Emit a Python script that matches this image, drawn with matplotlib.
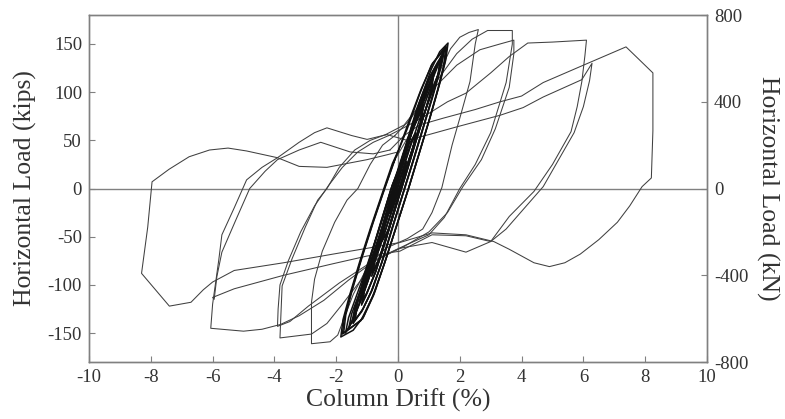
import numpy as np
from matplotlib import pyplot as plt

# drift (%) and horizontal load (kips) read from the test record, one list per cycle
cyc_025 = [(0.00, 2), (0.13, 15), (0.27, 28), (0.22, 19), (0.08, 4), (-0.08, -10), (-0.26, -26), (-0.20, -17), (-0.03, -1)]
cyc_050a = [(-0.03, -1), (0.18, 22), (0.38, 44), (0.55, 56), (0.50, 44), (0.32, 24), (0.12, 2), (-0.12, -24),
            (-0.32, -44), (-0.52, -55), (-0.47, -43), (-0.28, -22), (-0.08, 0)]
cyc_050b = [(-0.08, 0), (0.16, 24), (0.36, 46), (0.57, 58), (0.52, 47), (0.34, 27), (0.14, 5), (-0.10, -21),
            (-0.30, -42), (-0.50, -53), (-0.45, -41), (-0.26, -20), (-0.06, 3)]
cyc_075a = [(-0.06, 3), (0.22, 34), (0.50, 64), (0.80, 84), (0.74, 70), (0.52, 46), (0.26, 18), (-0.05, -14),
            (-0.35, -46), (-0.60, -72), (-0.82, -88), (-0.76, -74), (-0.54, -50), (-0.26, -20), (-0.04, 6)]
cyc_075b = [(-0.04, 6), (0.24, 37), (0.52, 66), (0.83, 87), (0.77, 72), (0.55, 48), (0.28, 20), (-0.02, -12),
            (-0.32, -44), (-0.58, -70), (-0.85, -91), (-0.79, -76), (-0.57, -52), (-0.29, -22), (-0.06, 4)]
cyc_075c = [(-0.06, 4), (0.20, 32), (0.48, 62), (0.78, 82), (0.72, 68), (0.50, 44), (0.24, 16), (-0.06, -16),
            (-0.36, -48), (-0.62, -74), (-0.80, -86), (-0.74, -72), (-0.52, -48), (-0.24, -18), (-0.02, 8)]
cyc_100a = [(-0.02, 8), (0.30, 44), (0.62, 78), (0.92, 102), (1.12, 114), (1.06, 100), (0.84, 76), (0.55, 46),
            (0.25, 14), (-0.08, -20), (-0.40, -54), (-0.72, -86), (-1.00, -108), (-1.15, -118), (-1.09, -104),
            (-0.88, -80), (-0.58, -48), (-0.28, -16), (-0.04, 10)]
cyc_100b = [(-0.04, 10), (0.28, 42), (0.60, 76), (0.94, 104), (1.15, 117), (1.09, 103), (0.87, 79), (0.58, 49),
            (0.28, 17), (-0.05, -17), (-0.37, -51), (-0.70, -84), (-1.02, -110), (-1.18, -121), (-1.12, -107),
            (-0.91, -83), (-0.61, -51), (-0.31, -19), (-0.06, 8)]
cyc_100c = [(-0.06, 8), (0.32, 47), (0.64, 80), (0.96, 105), (1.10, 112), (1.04, 98), (0.82, 74), (0.52, 43),
            (0.22, 11), (-0.10, -22), (-0.42, -56), (-0.74, -88), (-0.98, -106), (-1.13, -116), (-1.07, -102),
            (-0.86, -78), (-0.56, -46), (-0.26, -14), (-0.02, 12)]
cyc_125a = [(-0.02, 12), (0.30, 46), (0.65, 82), (1.00, 112), (1.25, 128), (1.38, 134), (1.31, 118), (1.10, 94),
            (0.80, 62), (0.48, 28), (0.15, -6), (-0.18, -40), (-0.52, -76), (-0.85, -106), (-1.15, -126),
            (-1.40, -137), (-1.34, -122), (-1.14, -98), (-0.84, -66), (-0.52, -32), (-0.20, 2), (0.00, 18)]
cyc_125b = [(0.00, 18), (0.33, 52), (0.68, 88), (1.03, 116), (1.28, 131), (1.42, 138), (1.35, 121), (1.14, 97),
            (0.84, 65), (0.52, 31), (0.19, -3), (-0.14, -37), (-0.48, -73), (-0.82, -104), (-1.12, -124),
            (-1.45, -140), (-1.38, -124), (-1.17, -100), (-0.87, -68), (-0.55, -34), (-0.24, -2), (-0.04, 16)]
cyc_125c = [(-0.04, 16), (0.28, 48), (0.62, 84), (0.98, 113), (1.22, 127), (1.36, 133), (1.29, 117), (1.08, 92),
            (0.78, 60), (0.46, 26), (0.13, -8), (-0.20, -42), (-0.54, -78), (-0.88, -108), (-1.18, -128),
            (-1.38, -136), (-1.32, -120), (-1.12, -96), (-0.82, -64), (-0.50, -30), (-0.18, 4), (0.02, 20)]
cyc_130a = [(0.02, 20), (0.50, 62), (1.00, 104), (1.40, 136), (1.30, 118), (0.85, 78), (0.35, 30), (-0.15, -18),
            (-0.65, -66), (-1.15, -112), (-1.50, -140), (-1.40, -124), (-0.95, -84), (-0.45, -36), (0.02, 20)]
cyc_130b = [(0.02, 20), (0.45, 60), (0.95, 102), (1.35, 134), (1.52, 146), (1.42, 130), (1.00, 92), (0.50, 44),
            (0.00, -4), (-0.50, -52), (-1.00, -98), (-1.45, -136), (-1.70, -150), (-1.60, -134), (-1.15, -94),
            (-0.65, -46), (-0.15, 2), (0.02, 20)]
cyc_130c = [(0.02, 20), (0.40, 56), (0.90, 100), (1.20, 124), (1.10, 110), (0.70, 72), (0.20, 24), (-0.30, -26),
            (-0.80, -76), (-1.25, -118), (-1.15, -104), (-0.70, -60), (-0.20, -12), (0.02, 20)]
cyc_130d = [(0.02, 20), (0.55, 70), (1.05, 112), (1.48, 142), (1.38, 126), (0.92, 84), (0.42, 36), (-0.08, -12),
            (-0.58, -60), (-1.08, -106), (-1.60, -146), (-1.50, -130), (-1.02, -88), (-0.52, -40), (0.02, 20)]
cyc_150a = [(0.02, 20), (0.35, 54), (0.72, 92), (1.08, 124), (1.35, 142), (1.62, 151), (1.55, 134), (1.36, 110),
            (1.06, 76), (0.72, 40), (0.38, 4), (0.02, -32), (-0.36, -70), (-0.74, -106), (-1.10, -132),
            (-1.45, -147), (-1.85, -154), (-1.78, -136), (-1.56, -110), (-1.24, -76), (-0.88, -40), (-0.52, -6),
            (-0.18, 26), (0.02, 40)]
cyc_150b = [(0.02, 40), (0.38, 72), (0.76, 104), (1.12, 130), (1.58, 147), (1.51, 130), (1.32, 106), (1.02, 72),
            (0.68, 36), (0.34, 0), (-0.02, -36), (-0.40, -74), (-0.78, -110), (-1.14, -135), (-1.80, -151),
            (-1.73, -133), (-1.51, -107), (-1.19, -73), (-0.83, -37), (-0.47, -3), (-0.13, 28)]
cyc_150c = [(-0.13, 28), (0.30, 62), (0.70, 98), (1.08, 128), (1.55, 148), (1.48, 128), (1.28, 102), (0.98, 68),
            (0.64, 32), (0.30, -4), (-0.06, -40), (-0.44, -78), (-0.82, -112), (-1.20, -137), (-1.76, -150),
            (-1.69, -131), (-1.47, -104), (-1.15, -70), (-0.79, -34), (-0.43, 0), (-0.10, 30)]
cyc_26 = [(-0.10, 30), (0.30, 52), (0.80, 85), (1.30, 118), (1.70, 145), (2.00, 157), (2.30, 162), (2.60, 165),
          (2.50, 150), (2.33, 111), (2.00, 73), (1.75, 45), (1.42, 1), (1.10, -25), (0.80, -42), (0.30, -52),
          (-0.40, -62), (-1.00, -82), (-1.45, -110), (-1.75, -135), (-1.95, -152), (-2.20, -159), (-2.80, -161),
          (-2.80, -140), (-2.80, -118), (-2.70, -94), (-2.45, -65), (-2.05, -35), (-1.65, -12), (-1.30, 0),
          (-0.90, 25), (-0.50, 45), (-0.10, 55)]
cyc_37a = [(-0.10, 55), (0.40, 72), (0.90, 95), (1.40, 118), (1.90, 140), (2.40, 155), (2.90, 164), (3.70, 164),
           (3.70, 150), (3.50, 110), (3.00, 58), (2.50, 25), (2.00, 0), (1.50, -30), (1.00, -48), (0.30, -58),
           (-0.50, -70), (-1.20, -95), (-1.80, -120), (-2.30, -140), (-2.80, -151), (-3.82, -155),
           (-3.80, -139), (-3.75, -101), (-3.43, -73), (-3.00, -40), (-2.60, -12), (-2.30, 0), (-1.90, 22),
           (-1.40, 40), (-0.90, 50), (-0.40, 56)]
cyc_37b = [(-0.40, 56), (0.20, 66), (1.03, 100), (1.90, 128), (2.65, 144), (3.30, 150), (3.75, 154),
           (3.75, 140), (3.60, 105), (3.15, 62), (2.70, 30), (2.10, 2), (1.60, -25), (1.00, -45), (0.20, -60),
           (-0.80, -75), (-1.90, -98), (-2.90, -122), (-3.50, -138), (-3.90, -143),
           (-3.88, -125), (-3.82, -100), (-3.55, -75), (-3.15, -45), (-2.70, -18), (-2.25, 3), (-1.80, 22),
           (-1.30, 38), (-0.80, 48), (-0.30, 55)]
cyc_60a = [(-0.30, 55), (0.30, 65), (0.90, 76), (1.60, 90), (2.20, 99), (3.00, 120), (3.60, 137), (4.20, 151),
           (5.00, 152), (6.10, 154), (6.05, 138), (5.95, 111), (5.80, 85), (5.60, 59), (5.00, 25), (4.40, -3),
           (3.60, -29), (3.00, -55), (2.20, -66), (1.10, -56), (0.06, -62), (-0.80, -76), (-1.60, -95),
           (-2.40, -116), (-3.20, -132), (-3.80, -141), (-4.40, -146), (-5.00, -148), (-6.06, -145),
           (-6.00, -120), (-5.90, -97), (-5.80, -74), (-5.70, -48), (-5.30, -20), (-4.90, 9), (-4.40, 22),
           (-3.90, 32), (-3.20, 48), (-2.70, 58), (-2.30, 63), (-1.50, 55), (-1.00, 51), (-0.36, 56)]
cyc_60b = [(-0.36, 56), (0.30, 50), (1.00, 56), (1.90, 64), (3.30, 76), (4.05, 84), (4.70, 95), (5.95, 113),
           (6.28, 130), (6.20, 112), (6.00, 85), (5.70, 58), (5.20, 30), (4.70, 2), (4.10, -20), (3.50, -42),
           (3.00, -55), (2.20, -49), (1.10, -48), (0.06, -65), (-1.00, -70), (-2.10, -78), (-3.70, -90),
           (-5.30, -104), (-6.00, -113), (-5.95, -115), (-5.86, -91), (-5.70, -66), (-5.24, -32), (-4.80, 0),
           (-4.30, 18), (-3.90, 30), (-3.20, 40), (-2.50, 48), (-1.55, 38), (-0.80, 36), (-0.26, 40)]
cyc_80 = [(-0.26, 40), (0.20, 55), (0.70, 66), (1.46, 73), (2.50, 82), (3.30, 90), (4.00, 96), (4.70, 110),
          (6.00, 128), (7.38, 147), (7.80, 134), (8.25, 120), (8.25, 60), (8.20, 11), (7.90, 2), (7.50, -18),
          (7.10, -35), (6.50, -53), (5.90, -68), (5.40, -77), (4.90, -81), (4.40, -77), (3.60, -63),
          (3.10, -55), (2.20, -48), (1.10, -46), (0.06, -56), (-1.00, -62), (-2.10, -68), (-3.70, -77),
          (-5.30, -85), (-6.00, -97), (-6.30, -105), (-6.70, -118), (-7.40, -122), (-8.30, -88), (-8.10, -40),
          (-7.96, 7), (-7.41, 20), (-6.76, 33), (-6.10, 40), (-5.50, 42), (-4.90, 39), (-3.90, 32),
          (-3.20, 23), (-2.30, 22), (-1.00, 30), (-0.36, 35), (0.00, 38)]

small_cycles = [cyc_025, cyc_050a, cyc_050b, cyc_075a, cyc_075b, cyc_075c, cyc_100a, cyc_100b, cyc_100c,
                cyc_125a, cyc_125b, cyc_125c, cyc_130a, cyc_130b, cyc_130c, cyc_130d,
                cyc_150a, cyc_150b, cyc_150c]
large_cycles = [cyc_26, cyc_37a, cyc_37b, cyc_60a, cyc_60b, cyc_80]

x_ticks = [-10, -8, -6, -4, -2, 0, 2, 4, 6, 8, 10]
kips_ticks = [-150, -100, -50, 0, 50, 100, 150]
kn_ticks = [-800, -400, 0, 400, 800]

plt.rcParams['font.family'] = ['Liberation Serif', 'DejaVu Serif']
plt.rcParams['axes.unicode_minus'] = False
ink = '#333333'
frame = '#808080'

fig = plt.figure(figsize=(7.85, 4.19), dpi=100)
ax = fig.add_axes([0.1134, 0.136, 0.7872, 0.828])

ax.axhline(0, color=frame, lw=1.0, zorder=1)
ax.axvline(0, color=frame, lw=1.0, zorder=1)

for cyc in small_cycles:
    pts = np.array(cyc, float)
    ax.plot(pts[:, 0], pts[:, 1], color='#111111', lw=1.1, zorder=3)
for cyc in large_cycles:
    pts = np.array(cyc, float)
    ax.plot(pts[:, 0], pts[:, 1], color='#404040', lw=0.75, zorder=2)

ax.set_xlim(-10, 10)
ax.set_ylim(-180, 180)
ax.set_xticks(x_ticks)
ax.set_xticklabels([str(v) for v in x_ticks])
ax.set_yticks(kips_ticks)
ax.tick_params(direction='in', length=4, width=0.8, color=frame, labelsize=13.5, labelcolor=ink, pad=5)
for s in ax.spines.values():
    s.set_color(frame)
    s.set_linewidth(1.0)
ax.set_xlabel('Column Drift (%)', fontsize=18.5, color=ink, labelpad=2)
ax.set_ylabel('Horizontal Load (kips)', fontsize=18.5, color=ink, labelpad=8)

ax2 = ax.twinx()
ax2.set_ylim(-800, 800)
ax2.set_yticks(kn_ticks)
ax2.tick_params(direction='in', length=4, width=0.8, color=frame, labelsize=13.5, labelcolor=ink, pad=5)
for s in ax2.spines.values():
    s.set_color(frame)
    s.set_linewidth(1.0)
ax2.set_ylabel('Horizontal Load (kN)', fontsize=18.5, color=ink, rotation=-90, labelpad=22)

fig.savefig('out.png', dpi=100)
